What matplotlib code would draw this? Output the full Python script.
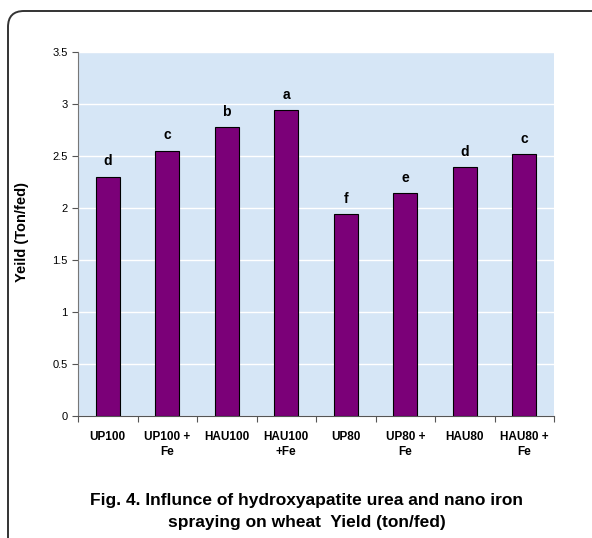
import matplotlib.pyplot as plt
from matplotlib.patches import FancyBboxPatch
import numpy as np

categories = ["UP100", "UP100 +\nFe", "HAU100", "HAU100\n+Fe", "UP80", "UP80 +\nFe", "HAU80", "HAU80 +\nFe"]
values = [2.30, 2.55, 2.78, 2.94, 1.94, 2.14, 2.39, 2.52]
letters = ["d", "c", "b", "a", "f", "e", "d", "c"]
yticks = [0, 0.5, 1, 1.5, 2, 2.5, 3, 3.5]

plt.rcParams['font.family'] = ['Liberation Sans', 'DejaVu Sans']

W, H = 592, 538
fig = plt.figure(figsize=(W/100, H/100), dpi=100)

# rounded outer frame (extends past right and bottom edges)
frame = FancyBboxPatch((0.08, -0.2), 6.5, (H - 11) / 100 + 0.2,
                       boxstyle="round,pad=0,rounding_size=0.16",
                       transform=fig.dpi_scale_trans, fill=False, edgecolor='#333333',
                       linewidth=1.4, clip_on=False)
fig.patches.append(frame)

ax = fig.add_axes([78/W, (H-416)/H, (554-78)/W, (416-52)/H])
ax.set_facecolor('#d6e6f6')
x = np.arange(len(categories))
ax.bar(x, values, width=0.4, color='#7b0078', edgecolor='black', linewidth=0.8, zorder=3)
for xi, v, l in zip(x, values, letters):
    ax.text(xi, v + 0.08, l, ha='center', va='bottom', fontsize=10, fontweight='bold', zorder=4)

ax.set_xlim(-0.5, len(categories) - 0.5)
ax.set_ylim(0, 3.5)
ax.set_yticks(yticks)
ax.set_yticklabels([f"{t:g}" for t in yticks], fontsize=8)
ax.yaxis.grid(True, color='white', linewidth=1.0, zorder=1)
ax.set_axisbelow(True)

ax.set_xticks(np.arange(len(categories) + 1) - 0.5)
ax.set_xticklabels([])
ax.set_xticks(x, minor=True)
ax.set_xticklabels(categories, minor=True, fontsize=8.5, fontweight='bold', linespacing=1.35)
ax.tick_params(axis='x', which='minor', length=0, pad=11)
ax.tick_params(axis='x', which='major', length=4, color='#555555')
ax.tick_params(axis='y', length=4, color='#555555')

for s in ['top', 'right']:
    ax.spines[s].set_visible(False)
ax.spines['left'].set_color('#777777')
ax.spines['bottom'].set_color('#555555')

fig.text(22/W, 1 - 232/H, "Yeild (Ton/fed)", rotation=90, ha='center', va='center',
         fontsize=10.5, fontweight='bold')

fig.text(307/W, 1 - 500/H, "Fig. 4. Influnce of hydroxyapatite urea and nano iron",
         ha='center', va='center', fontsize=12.5, fontweight='bold')
fig.text(307/W, 1 - 522/H, "spraying on wheat  Yield (ton/fed)",
         ha='center', va='center', fontsize=12.5, fontweight='bold')

fig.savefig("out.png", dpi=100)
